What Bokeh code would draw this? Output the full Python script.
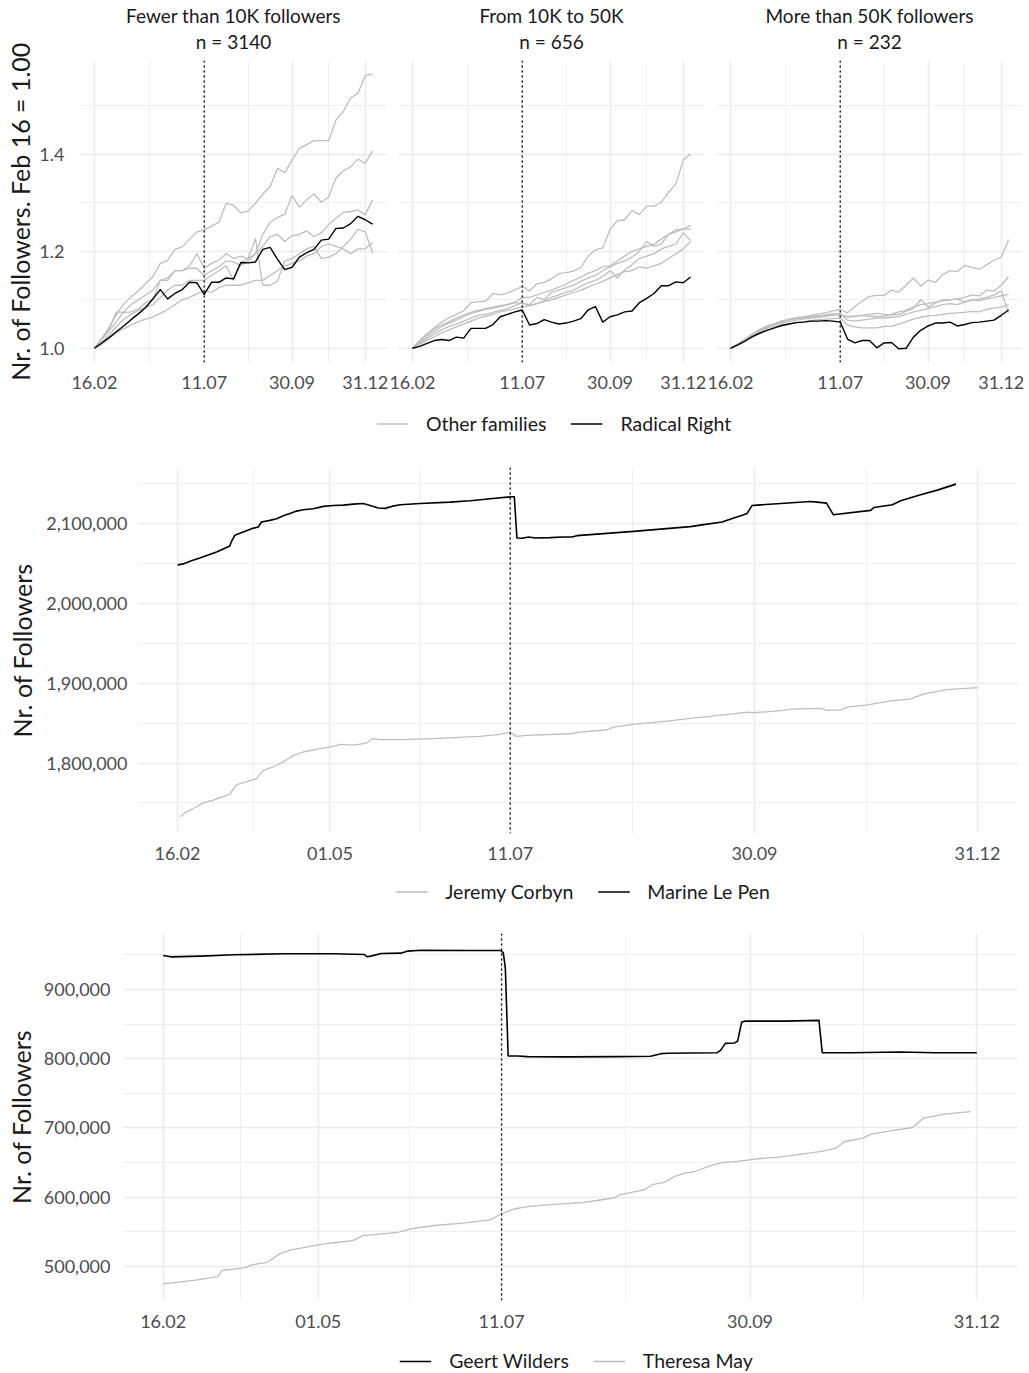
from bokeh.plotting import figure
from bokeh.layouts import column, row
from bokeh.models import (Range1d, FixedTicker, Span, Legend, LegendItem, NumeralTickFormatter,
                          PrintfTickFormatter, Title)
from bokeh.embed import file_html
from bokeh.resources import INLINE

# ---------------- data ----------------
obs_idx = list(range(39))
top_ticks = [0, 15, 27, 37]
top_minor = [7.5, 21, 32]
top_tick_labels = ["16.02", "11.07", "30.09", "31.12"]
top_y_ticks = [1.0, 1.2, 1.4]
top_y_minor = [1.1, 1.3, 1.5]

facet_names = ["Fewer than 10K followers", "From 10K to 50K", "More than 50K followers"]
facet_n = ["n = 3140", "n = 656", "n = 232"]

small_rr = [1.000,1.011,1.022,1.034,1.046,1.059,1.071,1.084,1.102,1.121,1.102,1.113,1.121,1.136,1.135,1.111,1.136,1.136,1.145,1.143,
            1.177,1.176,1.178,1.204,1.208,1.184,1.162,1.167,1.188,1.197,1.204,1.223,1.225,1.247,1.248,1.257,1.272,1.265,1.256]
small_other_1 = [1.000,1.020,1.043,1.070,1.091,1.106,1.118,1.133,1.148,1.175,1.181,1.204,1.209,1.225,1.240,1.244,1.252,1.260,1.299,1.295,
                 1.279,1.283,1.299,1.318,1.333,1.371,1.362,1.388,1.412,1.420,1.428,1.428,1.428,1.471,1.488,1.516,1.526,1.562,1.565]
small_other_2 = [1.000,1.018,1.036,1.055,1.075,1.09,1.10,1.11,1.12,1.14,1.145,1.16,1.16,1.165,1.165,1.15,1.16,1.168,1.18,1.178,
                 1.17,1.18,1.195,1.235,1.26,1.27,1.276,1.315,1.291,1.306,1.318,1.301,1.312,1.351,1.366,1.374,1.390,1.381,1.407]
small_other_3 = [1.000,1.020,1.040,1.075,1.074,1.075,1.080,1.095,1.100,1.140,1.140,1.160,1.160,1.170,1.195,1.165,1.175,1.182,1.195,1.185,
                 1.190,1.185,1.195,1.210,1.230,1.235,1.220,1.232,1.235,1.242,1.230,1.238,1.255,1.268,1.280,1.282,1.285,1.275,1.306]
small_other_4 = [1.000,1.012,1.028,1.045,1.060,1.070,1.078,1.085,1.090,1.105,1.120,1.130,1.130,1.140,1.140,1.140,1.150,1.160,1.170,1.140,
                 1.175,1.185,1.226,1.130,1.130,1.138,1.180,1.185,1.195,1.205,1.210,1.185,1.188,1.195,1.210,1.225,1.245,1.240,1.197]
small_other_5 = [1.000,1.008,1.020,1.032,1.040,1.048,1.055,1.060,1.065,1.072,1.080,1.090,1.100,1.105,1.112,1.120,1.115,1.125,1.130,1.130,
                 1.130,1.135,1.140,1.140,1.150,1.160,1.170,1.175,1.180,1.190,1.195,1.210,1.215,1.210,1.205,1.195,1.205,1.205,1.218]

mid_rr = [1.000,1.004,1.010,1.016,1.018,1.016,1.023,1.021,1.041,1.041,1.041,1.049,1.065,1.070,1.075,1.079,1.048,1.051,1.059,1.054,
          1.050,1.052,1.056,1.061,1.079,1.086,1.054,1.065,1.069,1.075,1.077,1.094,1.103,1.113,1.129,1.129,1.137,1.135,1.147]
mid_other_1 = [1.000,1.016,1.029,1.043,1.054,1.063,1.070,1.077,1.094,1.096,1.097,1.113,1.110,1.114,1.120,1.128,1.118,1.133,1.136,1.143,
               1.154,1.156,1.159,1.166,1.190,1.203,1.207,1.245,1.263,1.265,1.284,1.276,1.293,1.293,1.301,1.322,1.339,1.388,1.401]
mid_other_2 = [1.000,1.012,1.025,1.035,1.045,1.052,1.058,1.065,1.072,1.076,1.080,1.083,1.086,1.090,1.095,1.105,1.105,1.110,1.115,1.120,
               1.126,1.132,1.140,1.147,1.155,1.160,1.168,1.170,1.180,1.190,1.200,1.205,1.210,1.214,1.225,1.235,1.244,1.246,1.254]
mid_other_3 = [1.000,1.015,1.030,1.040,1.048,1.055,1.062,1.068,1.074,1.078,1.082,1.085,1.088,1.090,1.094,1.092,1.090,1.105,1.100,1.115,
               1.120,1.125,1.130,1.138,1.145,1.150,1.160,1.168,1.175,1.180,1.188,1.200,1.220,1.210,1.215,1.235,1.240,1.246,1.245]
mid_other_4 = [1.000,1.010,1.020,1.030,1.038,1.045,1.050,1.056,1.062,1.068,1.070,1.074,1.078,1.082,1.088,1.094,1.088,1.092,1.098,1.105,
               1.110,1.116,1.120,1.128,1.135,1.140,1.148,1.160,1.145,1.162,1.172,1.185,1.190,1.195,1.205,1.210,1.215,1.238,1.222]
mid_other_5 = [1.000,1.008,1.016,1.024,1.032,1.038,1.044,1.050,1.056,1.062,1.066,1.070,1.075,1.078,1.082,1.085,1.088,1.092,1.096,1.100,
               1.105,1.110,1.115,1.120,1.126,1.132,1.138,1.145,1.152,1.158,1.160,1.168,1.165,1.170,1.175,1.185,1.195,1.205,1.220]

big_rr = [1.000,1.007,1.015,1.024,1.031,1.037,1.042,1.047,1.050,1.053,1.054,1.056,1.056,1.057,1.056,1.054,1.019,1.011,1.016,1.016,
          1.001,1.011,1.012,0.999,1.000,1.023,1.037,1.046,1.052,1.052,1.054,1.046,1.049,1.053,1.054,1.056,1.058,1.068,1.079]
big_other_1 = [1.000,1.008,1.018,1.029,1.038,1.045,1.050,1.056,1.060,1.063,1.065,1.068,1.071,1.073,1.077,1.080,1.073,1.086,1.097,1.107,
               1.109,1.109,1.120,1.116,1.130,1.145,1.128,1.141,1.136,1.152,1.160,1.158,1.171,1.167,1.163,1.172,1.181,1.188,1.224]
big_other_2 = [1.000,1.009,1.019,1.030,1.039,1.046,1.051,1.056,1.059,1.062,1.063,1.065,1.067,1.068,1.070,1.068,1.065,1.066,1.068,1.070,
               1.072,1.070,1.069,1.070,1.076,1.082,1.100,1.085,1.093,1.100,1.100,1.102,1.105,1.110,1.108,1.120,1.118,1.130,1.148]
big_other_3 = [1.000,1.008,1.017,1.027,1.036,1.043,1.049,1.054,1.058,1.061,1.063,1.065,1.067,1.069,1.071,1.070,1.065,1.066,1.068,1.066,
               1.065,1.066,1.070,1.075,1.078,1.085,1.090,1.092,1.095,1.098,1.100,1.102,1.095,1.100,1.102,1.105,1.110,1.118,1.073]
big_other_4 = [1.000,1.007,1.016,1.026,1.034,1.041,1.046,1.051,1.055,1.058,1.060,1.062,1.064,1.066,1.068,1.072,1.058,1.056,1.058,1.060,
               1.062,1.062,1.064,1.066,1.070,1.075,1.078,1.082,1.086,1.090,1.092,1.090,1.095,1.100,1.098,1.102,1.105,1.108,1.111]
big_other_5 = [1.000,1.006,1.014,1.023,1.031,1.037,1.042,1.046,1.050,1.053,1.055,1.057,1.059,1.060,1.061,1.062,1.048,1.044,1.042,1.042,
               1.042,1.045,1.045,1.050,1.055,1.060,1.064,1.067,1.068,1.070,1.072,1.073,1.074,1.076,1.075,1.080,1.083,1.085,1.090]

lower_ticks = [0, 19.06, 41.59, 72.13, 100]
lower_minor = [9.53, 30.33, 56.86, 86.07]
lower_tick_labels = ["16.02", "01.05", "11.07", "30.09", "31.12"]

lepen_t = [0.0,0.7,1.74,2.79,4.88,6.54,6.75,7.17,8.21,9.26,10.09,10.5,11.55,12.39,13.22,14.05,14.89,15.72,16.97,18.23,
           19.48,20.73,21.98,23.23,24.07,25.11,25.95,26.78,27.83,30.33,34.08,36.59,39.09,41.8,42.1,42.43,43.06,43.89,44.73,46.6,
           48.27,49.31,49.93,57.02,64.1,65.78,68.07,69.53,70.79,71.2,71.83,72.45,79.13,79.96,81.13,81.97,86.64,87.06,89.35,90.39,
           92.89,94.98,97.3]
lepen_f = [2048300,2049600,2053700,2057100,2064600,2072100,2077900,2085400,2089600,2093800,2095800,2102100,2104200,2106300,2110000,
           2112900,2115800,2117500,2118800,2121700,2122900,2123300,2124600,2125400,2122900,2119600,2119200,2121700,2123800,2125400,
           2127100,2128800,2131300,2133800,2133800,2082100,2081700,2083300,2082100,2082500,2083300,2083300,2085000,2090400,2096300,
           2098800,2102100,2107100,2111300,2112900,2122900,2123300,2127900,2127100,2125800,2111300,2116700,2120400,2123800,2128800,
           2136300,2142100,2149600]
corbyn_t = [0.33,1.13,1.96,3.21,4.46,6.55,7.3,7.8,9.9,10.7,11.95,13.2,14.5,15.7,17.8,19.5,20.3,22.0,23.6,24.4,25.3,27.8,32.0,
            37.8,40.3,41.59,42.34,43.67,49.1,50.35,53.7,54.5,57.0,61.2,64.1,66.6,67.4,69.5,71.2,72.0,75.8,76.6,80.4,81.2,82.9,83.7,
            86.2,89.6,91.6,93.3,96.2,100.0]
corbyn_f = [1732500,1738800,1743000,1750000,1753400,1760900,1772100,1774200,1780400,1790900,1795000,1801300,1809600,1813800,
            1818000,1820900,1823400,1822500,1825000,1830500,1829200,1829200,1830500,1833400,1835900,1838800,1833400,1834600,
            1836700,1838800,1841700,1845000,1848400,1852500,1855900,1858400,1859600,1861700,1863800,1863000,1865900,1867500,
            1868400,1865900,1866700,1870000,1873000,1878400,1880000,1886700,1892100,1894600]
wilders_t = [0.0,0.94,4.63,8.73,14.88,21.0,24.7,25.1,25.5,26.8,29.2,30.0,31.7,37.4,41.5,41.8,42.05,42.4,43.5,44.8,49.7,55.8,
             59.9,61.2,62.0,68.1,68.5,69.1,70.2,70.6,71.1,71.6,76.3,80.6,81.0,84.5,90.6,94.8,100.0]
wilders_f = [948900,947000,948000,949900,951400,951400,950400,947000,948000,951800,952300,955200,956600,956200,956200,952800,
             931200,803900,803900,802900,802500,802900,803400,807200,807700,808600,812000,822100,822500,825400,852800,854200,
             854200,855200,808600,808600,809600,808600,808600]
may_t = [0.0,4.2,6.7,7.2,10.0,11.0,12.8,14.3,15.7,17.1,19.1,20.4,23.3,24.5,25.9,28.8,30.4,33.3,36.5,40.2,41.5,43.1,44.8,47.6,
         51.7,55.4,56.2,59.1,60.1,61.6,62.8,64.0,65.3,67.3,68.8,70.6,72.7,75.9,80.9,82.7,83.7,86.0,87.0,89.9,92.1,93.4,96.0,99.2]
may_f = [474900,480600,485400,494100,497900,502700,506000,518100,523900,526800,531100,533500,537300,544500,545900,549300,
         554200,559100,562300,567200,575700,582900,586300,589200,592500,598800,603600,610400,618000,621300,629500,634300,
         636700,645400,650100,651600,655000,658300,666000,670900,680000,685300,691100,696800,700600,714100,719900,723600]

mid_y_ticks = [1800000, 1900000, 2000000, 2100000]
mid_y_minor = [1750000, 1850000, 1950000, 2050000, 2150000]
bot_y_ticks = [500000, 600000, 700000, 800000, 900000]
bot_y_minor = [550000, 650000, 750000, 850000, 950000]

event_label = "11.07"

# ---------------- styling ----------------
FONT = "Lato"
GRAY = "#BEBEBE"
BLACK = "#000000"
GRID = "#EBEBEB"
TICK_COL = "#4D4D4D"
TXT = "#1A1A1A"
TOTAL_W = 1025


def padded(vals_lists):
    lo = min(min(v) for v in vals_lists)
    hi = max(max(v) for v in vals_lists)
    d = (hi - lo) * 0.05
    return lo - d, hi + d


def style(p, xt, xmin, xlab, yt, ymin, show_y, y_fmt, y_standoff, x_standoff):
    p.outline_line_color = None
    p.background_fill_color = "white"
    p.border_fill_color = "white"
    xtk = FixedTicker(ticks=xt, minor_ticks=xmin)
    ytk = FixedTicker(ticks=yt, minor_ticks=ymin)
    p.xaxis.ticker = xtk
    p.yaxis.ticker = ytk
    p.xaxis.major_label_overrides = {t: l for t, l in zip(xt, xlab)}
    p.yaxis.formatter = y_fmt
    for g in (p.xgrid, p.ygrid):
        g.grid_line_color = GRID
        g.grid_line_width = 1.5
        g.minor_grid_line_color = GRID
        g.minor_grid_line_width = 0.8
    for ax in (p.xaxis, p.yaxis):
        ax.axis_line_color = None
        ax.major_tick_line_color = None
        ax.minor_tick_line_color = None
        ax.major_tick_out = 0
        ax.major_tick_in = 0
        ax.minor_tick_out = 0
        ax.minor_tick_in = 0
        ax.major_label_text_font = FONT
        ax.major_label_text_font_size = "18px"
        ax.major_label_text_color = TICK_COL
        ax.axis_label_text_font = FONT
        ax.axis_label_text_font_style = "normal"
        ax.axis_label_text_font_size = "25px"
        ax.axis_label_text_color = TXT
    p.xaxis.major_label_standoff = x_standoff
    p.yaxis.major_label_standoff = y_standoff
    if not show_y:
        p.yaxis.visible = False


def legend_fig(left, height, entries, loc="center"):
    # legend-only strip; the sample lines sit outside the visible x range
    lp = figure(width=TOTAL_W, height=height, output_backend="svg", toolbar_location=None,
                x_range=Range1d(-1e9, -1e9 + 1), y_range=Range1d(0, 1),
                min_border_left=left, min_border_right=0, min_border_top=0, min_border_bottom=0)
    lp.xaxis.visible = False
    lp.yaxis.visible = False
    lp.xgrid.visible = False
    lp.ygrid.visible = False
    lp.outline_line_color = None
    items = []
    for label, xs, ys, col, lw in entries:
        r = lp.line(xs, ys, line_color=col, line_width=lw)
        items.append(LegendItem(label=label, renderers=[r]))
    leg = Legend(items=items, orientation="horizontal", location=loc,
                 border_line_color=None, background_fill_alpha=0,
                 label_text_font=FONT, label_text_font_size="19.5px", label_text_color=TXT,
                 glyph_width=32, label_standoff=18, spacing=24, margin=0, padding=2)
    lp.add_layout(leg)
    return lp


# ---------------- top facets ----------------
facets = [
    (small_rr, [small_other_1, small_other_2, small_other_3, small_other_4, small_other_5]),
    (mid_rr, [mid_other_1, mid_other_2, mid_other_3, mid_other_4, mid_other_5]),
    (big_rr, [big_other_1, big_other_2, big_other_3, big_other_4, big_other_5]),
]
all_top = []
for rr, others in facets:
    all_top.append(rr)
    all_top.extend(others)
top_lo, top_hi = padded(all_top)

x_pad = (obs_idx[-1] - obs_idx[0]) * 0.05
widths = [388, 318, 319]
lefts = [80, 10, 10]
rights = [2, 2, 3]
top_figs = []
for k, (rr, others) in enumerate(facets):
    p = figure(width=widths[k], height=402, output_backend="svg", toolbar_location=None,
               x_range=Range1d(obs_idx[0] - x_pad, obs_idx[-1] + x_pad),
               y_range=Range1d(top_lo, top_hi),
               min_border_left=lefts[k], min_border_right=rights[k], min_border_top=60, min_border_bottom=40)
    style(p, top_ticks, top_minor, top_tick_labels, top_y_ticks, top_y_minor, k == 0,
          PrintfTickFormatter(format="%.1f"), 16, 13)
    if k == 0:
        p.yaxis.axis_label = "Nr. of Followers. Feb 16 = 1.00"
        p.yaxis.axis_label_standoff = 1
    p.title.text = facet_names[k]
    p.title.align = "center"
    p.title.text_font = FONT
    p.title.text_font_size = "19px"
    p.title.text_font_style = "normal"
    p.title.text_color = TXT
    p.title.standoff = 0
    # small gap between the strip text and the panel
    p.add_layout(Title(text=" ", text_font=FONT, text_font_size="4px", standoff=0), "above")
    p.add_layout(Title(text=facet_n[k], align="center", text_font=FONT,
                       text_font_size="19px", text_font_style="normal", text_color=TXT, standoff=2), "above")
    for o in others:
        p.line(obs_idx, o, line_color=GRAY, line_width=1.3, line_join="round")
    p.line(obs_idx, rr, line_color=BLACK, line_width=1.4, line_join="round")
    p.add_layout(Span(location=top_ticks[top_tick_labels.index(event_label)], dimension="height",
                      line_color="black", line_width=1.3, line_dash="2 3"))
    top_figs.append(p)

leg_top = legend_fig(82, 42, [("Other families", obs_idx, small_other_1, GRAY, 1.3),
                              ("Radical Right", obs_idx, small_rr, BLACK, 1.4)])

lower_pad = (lower_ticks[-1] - lower_ticks[0]) * 0.05
event_x = lower_ticks[lower_tick_labels.index(event_label)]

# ---------------- middle panel ----------------
m_lo, m_hi = padded([lepen_f, corbyn_f])
pm = figure(width=TOTAL_W, height=427, output_backend="svg", toolbar_location=None,
            x_range=Range1d(lower_ticks[0] - lower_pad, lower_ticks[-1] + lower_pad),
            y_range=Range1d(m_lo, m_hi),
            min_border_left=137, min_border_right=8, min_border_top=23, min_border_bottom=38)
style(pm, lower_ticks, lower_minor, lower_tick_labels, mid_y_ticks, mid_y_minor, True,
      NumeralTickFormatter(format="0,0"), 10, 13)
pm.yaxis.axis_label = "Nr. of Followers"
pm.yaxis.axis_label_standoff = 6
pm.line(corbyn_t, corbyn_f, line_color=GRAY, line_width=1.3, line_join="round")
pm.line(lepen_t, lepen_f, line_color=BLACK, line_width=1.6, line_join="round")
pm.add_layout(Span(location=event_x, dimension="height", line_color="black", line_width=1.3, line_dash="2 3"))

leg_mid = legend_fig(140, 40, [("Jeremy Corbyn", corbyn_t, corbyn_f, GRAY, 1.3),
                               ("Marine Le Pen", lepen_t, lepen_f, BLACK, 1.6)])

# ---------------- bottom panel ----------------
b_lo, b_hi = padded([wilders_f, may_f])
pb = figure(width=TOTAL_W, height=426, output_backend="svg", toolbar_location=None,
            x_range=Range1d(lower_ticks[0] - lower_pad, lower_ticks[-1] + lower_pad),
            y_range=Range1d(b_lo, b_hi),
            min_border_left=122, min_border_right=8, min_border_top=22, min_border_bottom=37)
style(pb, lower_ticks, lower_minor, lower_tick_labels, bot_y_ticks, bot_y_minor, True,
      NumeralTickFormatter(format="0,0"), 12, 14)
pb.yaxis.axis_label = "Nr. of Followers"
pb.yaxis.axis_label_standoff = 5
pb.line(wilders_t, wilders_f, line_color=BLACK, line_width=1.6, line_join="round")
pb.line(may_t, may_f, line_color=GRAY, line_width=1.3, line_join="round")
pb.add_layout(Span(location=event_x, dimension="height", line_color="black", line_width=1.3, line_dash="2 3"))

leg_bot = legend_fig(127, 35, [("Geert Wilders", wilders_t, wilders_f, BLACK, 1.6),
                               ("Theresa May", may_t, may_f, GRAY, 1.3)], loc="bottom_center")

layout = column(row(*top_figs), row(leg_top), row(pm), row(leg_mid), row(pb), row(leg_bot))
open("out.html", "w").write(file_html(layout, INLINE))
